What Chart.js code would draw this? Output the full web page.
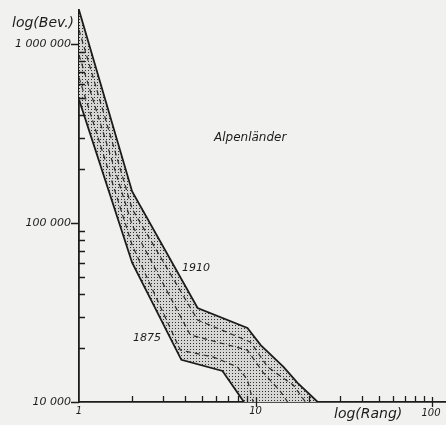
<!DOCTYPE html>
<html>
<head>
<meta charset="utf-8">
<script src="https://cdn.jsdelivr.net/npm/chart.js@4"></script>
<style>
  html, body { margin: 0; padding: 0; background: #f1f1ef; }
  #wrap { width: 446px; height: 425px; position: relative; }
</style>
</head>
<body>
<div id="wrap"><canvas id="chart"></canvas></div>
<script>
// Rank-size data (log scales)
const rank1910 = [1, 2, 4.7, 9, 10.7, 14.4, 17.3, 22.5];
const pop1910 = [1550000, 150000, 33500, 25900, 20800, 15700, 12800, 10000];
const rank1875 = [1, 2, 3.8, 6.5, 8.6];
const pop1875 = [490000, 60000, 17200, 14900, 10000];

// intermediate years (dashed, unlabelled)
const rankA = [1, 2, 4.7, 9.4, 11.7, 16.4, 19.2];
const popA = [1200000, 120000, 28700, 21600, 15700, 12400, 10000];
const rankB = [1, 2, 4.27, 9, 11, 13.9, 15.2];
const popB = [870000, 97500, 23700, 19500, 14700, 11400, 10000];
const rankC = [1, 2, 3.75, 5.8, 7.9, 9, 9.7];
const popC = [650000, 75300, 19500, 17800, 15700, 13300, 10000];

const xTicks = [1, 10];
const xTickLabels = { 1: '1', 10: '10' };
const yTicks = [10000, 100000, 1000000];
const yTickLabels = { 10000: '10 000', 100000: '100 000', 1000000: '1 000 000' };

const toPoints = (xs, ys) => xs.map((x, i) => ({ x: x, y: ys[i] }));

// stipple pattern for the band
const tile = document.createElement('canvas');
tile.width = 3; tile.height = 3;
const tctx = tile.getContext('2d');
tctx.fillStyle = '#d6d6d4';
tctx.fillRect(0, 0, 3, 3);
tctx.fillStyle = '#2e2e2e';
tctx.fillRect(1, 1, 1, 1);

const ink = '#1c1c1c';

const bandPlugin = {
  id: 'band',
  beforeDraw(chart) {
    const c = chart.ctx;
    c.save();
    c.fillStyle = '#f1f1ef';
    c.fillRect(0, 0, chart.width, chart.height);
    c.restore();
  },
  beforeDatasetsDraw(chart) {
    const c = chart.ctx;
    const xs = chart.scales.x, ys = chart.scales.y;
    const area = chart.chartArea;
    c.save();
    c.beginPath();
    c.rect(area.left, area.top - 2, area.right - area.left, area.bottom - area.top + 2);
    c.clip();
    c.beginPath();
    rank1910.forEach((r, i) => {
      const px = xs.getPixelForValue(r), py = ys.getPixelForValue(pop1910[i]);
      if (i === 0) c.moveTo(px, py); else c.lineTo(px, py);
    });
    for (let i = rank1875.length - 1; i >= 0; i--) {
      c.lineTo(xs.getPixelForValue(rank1875[i]), ys.getPixelForValue(pop1875[i]));
    }
    c.closePath();
    c.fillStyle = c.createPattern(tile, 'repeat');
    c.fill();
    c.restore();
  },
  afterDraw(chart) {
    const c = chart.ctx;
    const xs = chart.scales.x, ys = chart.scales.y;
    const area = chart.chartArea;
    c.save();
    c.strokeStyle = ink;
    c.lineWidth = 1.3;
    c.beginPath();
    // x axis ticks
    [1, 10, 100].forEach(d => {
      for (let m = 1; m <= 9; m++) {
        const v = d * m;
        if (v > xs.max) break;
        const px = Math.round(xs.getPixelForValue(v)) + 0.5;
        if (m === 1 && v > 1) {
          c.moveTo(px, area.bottom - 5); c.lineTo(px, area.bottom + 5);
        } else if (m > 1) {
          c.moveTo(px, area.bottom); c.lineTo(px, area.bottom - 6);
        }
      }
    });
    // y axis ticks
    [10000, 100000, 1000000].forEach(d => {
      for (let m = 1; m <= 9; m++) {
        const v = d * m;
        if (v > ys.max) break;
        const py = Math.round(ys.getPixelForValue(v)) + 0.5;
        if (m === 1) {
          c.moveTo(area.left - 8, py); c.lineTo(area.left, py);
        } else {
          c.moveTo(area.left, py); c.lineTo(area.left + 6, py);
        }
      }
    });
    c.stroke();

    // texts
    c.fillStyle = ink;
    c.textBaseline = 'alphabetic';
    c.font = 'italic 14px "DejaVu Sans"';
    c.textAlign = 'left';
    c.fillText('log(Bev.)', 12, 27);
    c.fillText('log(Rang)', 334, 418);
    c.font = 'italic 12px "DejaVu Sans"';
    c.fillText('Alpenländer', 214, 141);
    c.font = 'italic 11px "DejaVu Sans"';
    c.fillText('1910', 182, 271);
    c.fillText('1875', 133, 341);
    c.font = 'italic 10px "DejaVu Sans"';
    c.textAlign = 'center';
    c.fillText('100', xs.getPixelForValue(100) - 1, 416);
    c.restore();
  }
};

const solid = { borderColor: ink, borderWidth: 1.8, pointRadius: 0, tension: 0, fill: false };
const dashed = { borderColor: '#2a2a2a', borderWidth: 1.2, borderDash: [5, 4], pointRadius: 0, tension: 0, fill: false };

new Chart(document.getElementById('chart'), {
  type: 'line',
  data: {
    datasets: [
      Object.assign({ label: '1910', data: toPoints(rank1910, pop1910) }, solid),
      Object.assign({ label: 'A', data: toPoints(rankA, popA) }, dashed),
      Object.assign({ label: 'B', data: toPoints(rankB, popB) }, dashed),
      Object.assign({ label: 'C', data: toPoints(rankC, popC) }, dashed),
      Object.assign({ label: '1875', data: toPoints(rank1875, pop1875) }, solid)
    ]
  },
  options: {
    responsive: true,
    maintainAspectRatio: false,
    animation: false,
    layout: { padding: { top: 10, right: 0, left: 0, bottom: 0 } },
    plugins: { legend: { display: false }, tooltip: { enabled: false } },
    scales: {
      x: {
        type: 'logarithmic',
        min: 1,
        max: 120,
        grid: { display: false, drawTicks: false },
        border: { display: true, color: ink, width: 1.8 },
        afterFit: s => { s.height = 23; s.paddingLeft = 0; s.paddingRight = 0; },
        afterBuildTicks: s => { s.ticks = xTicks.map(v => ({ value: v })); },
        ticks: {
          autoSkip: false,
          maxRotation: 0,
          padding: 3,
          color: ink,
          font: { family: 'DejaVu Sans', size: 10, style: 'italic' },
          callback: v => xTickLabels[v] || ''
        }
      },
      y: {
        type: 'logarithmic',
        min: 10000,
        max: 1550000,
        grid: { display: false, drawTicks: false },
        border: { display: true, color: ink, width: 1.8 },
        afterFit: s => { s.width = 79; s.paddingTop = 0; s.paddingBottom = 0; },
        afterBuildTicks: s => { s.ticks = yTicks.map(v => ({ value: v })); },
        ticks: {
          autoSkip: false,
          padding: 8,
          color: ink,
          font: { family: 'DejaVu Sans', size: 11, style: 'italic' },
          callback: v => yTickLabels[v] || ''
        }
      }
    }
  },
  plugins: [bandPlugin]
});
</script>
</body>
</html>
